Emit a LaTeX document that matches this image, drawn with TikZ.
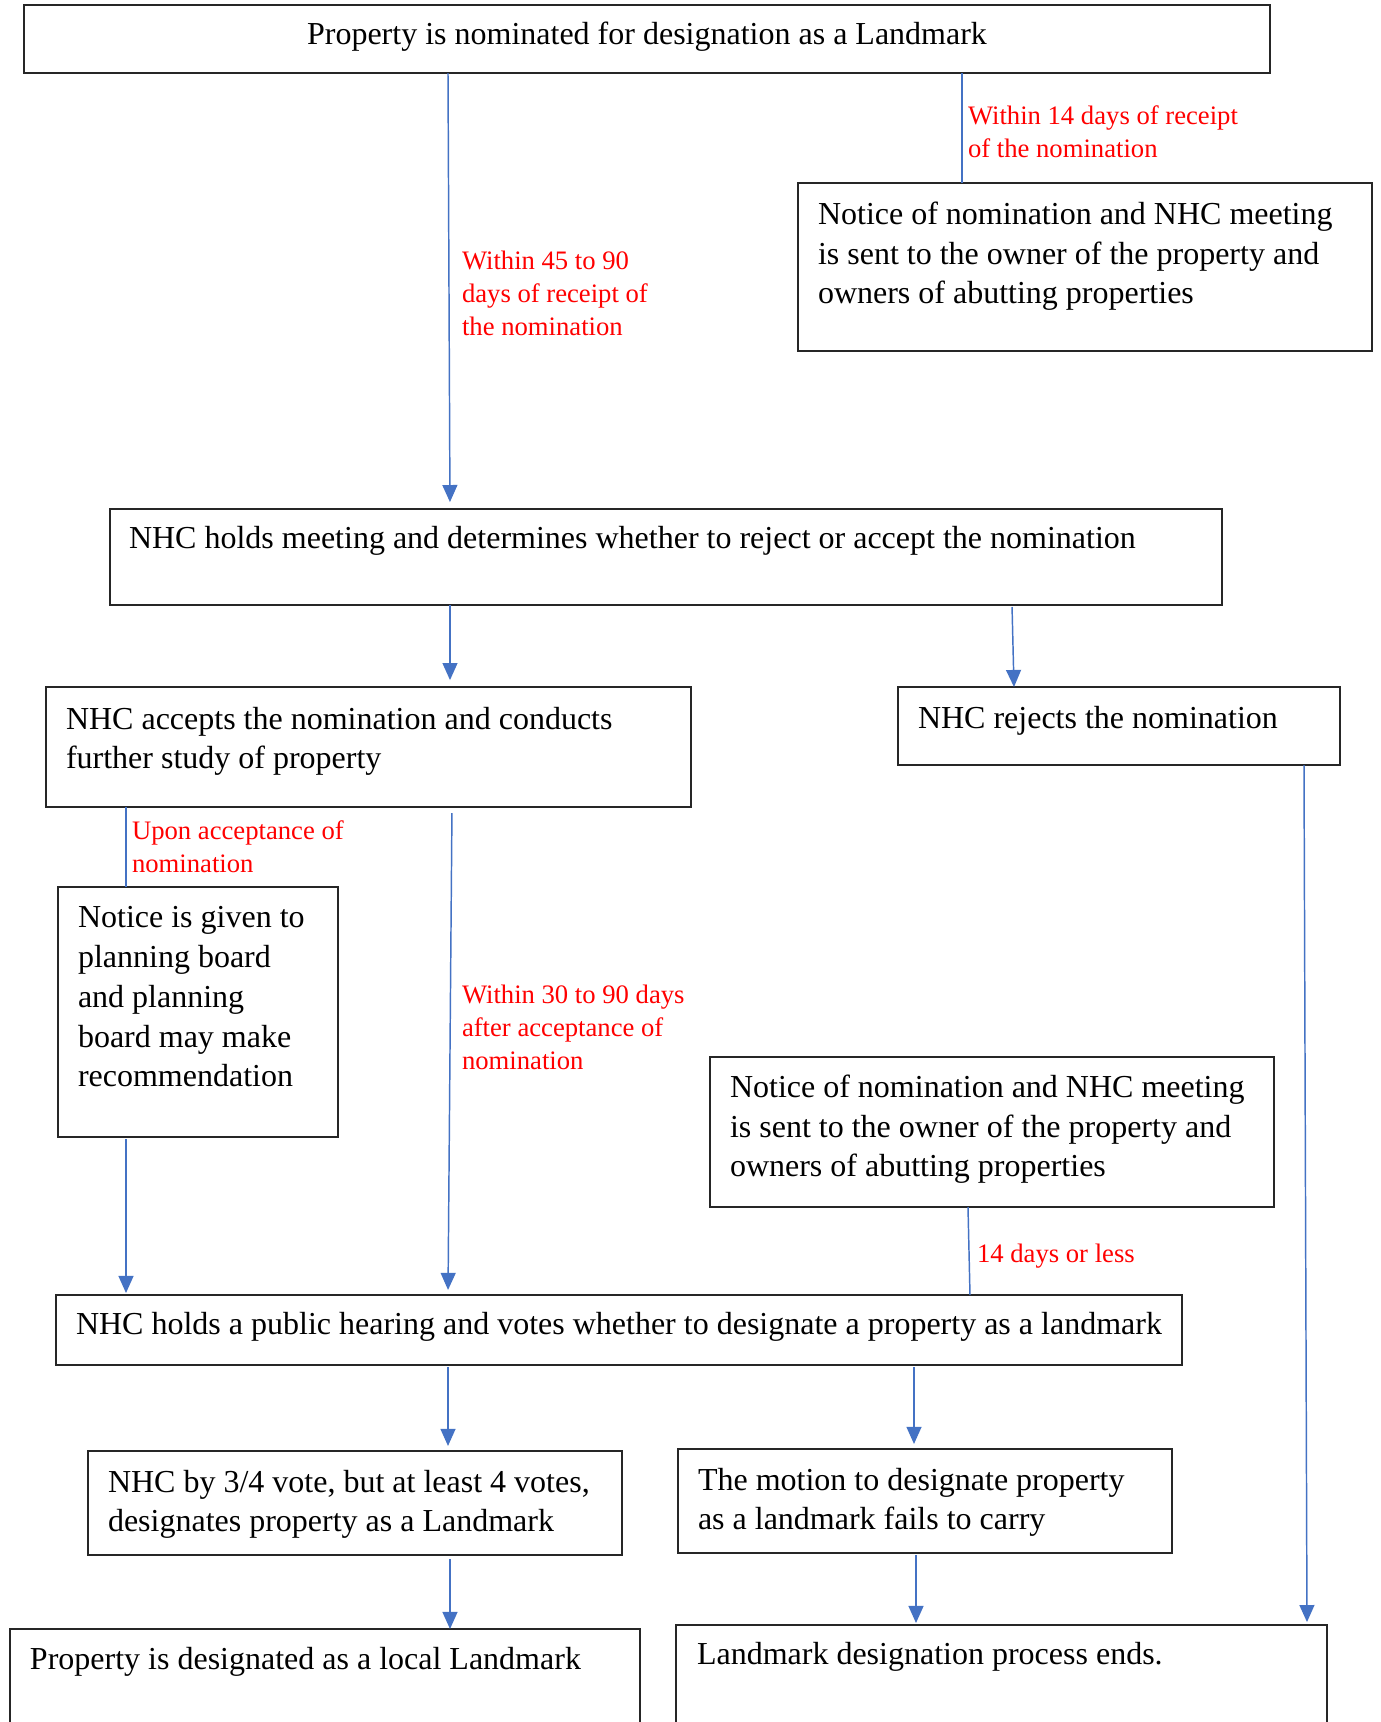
\documentclass[tikz,border=0pt]{standalone}
\usepackage{fontspec}
\setmainfont{Liberation Serif}
\usetikzlibrary{arrows.meta}
\definecolor{ablue}{HTML}{4472C4}
\definecolor{ared}{HTML}{FF0000}
\begin{document}
\begin{tikzpicture}[x=0.375pt,y=-0.375pt,
  box/.style={draw=black!85, line width=0.6pt, inner sep=0pt, outer sep=0pt, anchor=north west},
  txt/.style={inner sep=0pt, outer sep=0pt, align=left, font=\fontsize{12}{14.9}\selectfont, text=black, yshift=-0.7pt},
  lbl/.style={inner sep=0pt, outer sep=0pt, align=left, font=\fontsize{10}{12.4}\selectfont, text=ared, yshift=-0.8pt},
  ln/.style={draw=ablue, line width=0.55pt},
  arr/.style={draw=ablue, line width=0.55pt, -{Triangle[length=6.4pt,width=5.6pt]}}]
\useasboundingbox (0,0) rectangle (1381,1722);
\clip (0,0) rectangle (1381,1722);
\fill[white] (0,0) rectangle (1381,1722);
\newcommand\mybox[5]{\node[box, minimum width=(#4-#2)*0.375pt, minimum height=(#5-#3)*0.375pt] (#1) at (#2,#3) {};}
% boxes
\mybox{b1}{24}{5}{1270}{73}
\mybox{b2}{798}{183}{1372}{351}
\mybox{b3}{110}{509}{1222}{605}
\mybox{b4}{46}{687}{691}{807}
\mybox{b5}{898}{687}{1340}{765}
\mybox{b6}{58}{887}{338}{1137}
\mybox{b7}{710}{1057}{1274}{1207}
\mybox{b8}{56}{1295}{1182}{1365}
\mybox{b9}{88}{1451}{622}{1555}
\mybox{b10}{678}{1449}{1172}{1553}
\mybox{b11}{10}{1629}{640}{1760}
\mybox{b12}{676}{1625}{1327}{1760}
% box texts (base anchor = baseline of the last line)
\node[txt, anchor=base] (t1) at (647,43) {Property is nominated for designation as a Landmark};
\node[txt, anchor=base west] (t2) at (818,302) {Notice of nomination and NHC meeting\\is sent to the owner of the property and\\owners of abutting properties};
\node[txt, anchor=base west] (t3) at (129,547) {NHC holds meeting and determines whether to reject or accept the nomination};
\node[txt, anchor=base west] (t4) at (66,767) {NHC accepts the nomination and conducts\\further study of property};
\node[txt, anchor=base west] (t5) at (918,727) {NHC rejects the nomination};
\node[txt, anchor=base west] (t6) at (78,1085) {Notice is given to\\planning board\\and planning\\board may make\\recommendation};
\node[txt, anchor=base west] (t7) at (730,1175) {Notice of nomination and NHC meeting\\is sent to the owner of the property and\\owners of abutting properties};
\node[txt, anchor=base west] (t8) at (76,1333) {NHC holds a public hearing and votes whether to designate a property as a landmark};
\node[txt, anchor=base west] (t9) at (108,1530) {NHC by 3/4 vote, but at least 4 votes,\\designates property as a Landmark};
\node[txt, anchor=base west] (t10) at (698,1528) {The motion to designate property\\as a landmark fails to carry};
\node[txt, anchor=base west] (t11) at (30,1668) {Property is designated as a local Landmark};
\node[txt, anchor=base west] (t12) at (697,1663) {Landmark designation process ends.};
% red labels
\node[lbl, anchor=base west] (l1) at (968,155) {Within 14 days of receipt\\of the nomination};
\node[lbl, anchor=base west] (l2) at (462,333) {Within 45 to 90\\days of receipt of\\the nomination};
\node[lbl, anchor=base west] (l3) at (132,870) {Upon acceptance of\\nomination};
\node[lbl, anchor=base west] (l4) at (462,1067) {Within 30 to 90 days\\after acceptance of\\nomination};
\node[lbl, anchor=base west] (l5) at (977,1260) {14 days or less};
% x positions of connectors
\coordinate (x126) at (126,0);
\coordinate (x448) at (448,0);
\coordinate (x450) at (450,0);
\coordinate (x452) at (452,0);
\coordinate (x914) at (914,0);
\coordinate (x916) at (916,0);
\coordinate (x962) at (962,0);
\coordinate (x968) at (968,0);
\coordinate (x970) at (970,0);
\coordinate (x1012) at (1012,0);
\coordinate (x1014) at (1014,0);
\coordinate (x1304) at (1304,0);
\coordinate (x1307) at (1307,0);
% connectors
\draw[arr, shorten >=2.6pt] (b1.south -| x448) -- (b3.north -| x450);
\draw[ln] (b1.south -| x962) -- (b2.north -| x962);
\draw[arr, shorten >=2.6pt] (b3.south -| x450) -- (b4.north -| x450);
\draw[arr, shorten <=0.75pt] (b3.south -| x1012) -- (b5.north -| x1014);
\draw[ln] (b4.south -| x126) -- (b6.north -| x126);
\draw[arr, shorten <=2.25pt, shorten >=1.9pt] (b4.south -| x452) -- (b8.north -| x448);
\draw[arr, shorten <=0.75pt, shorten >=0.75pt] (b6.south -| x126) -- (b8.north -| x126);
\draw[ln] (b7.south -| x968) -- (b8.north -| x970);
\draw[arr, shorten >=1.1pt] (b5.south -| x1304) -- (b12.north -| x1307);
\draw[arr, shorten <=0.75pt, shorten >=1.9pt] (b8.south -| x448) -- (b9.north -| x448);
\draw[arr, shorten <=0.75pt, shorten >=1.9pt] (b8.south -| x914) -- (b10.north -| x914);
\draw[arr, shorten <=1.5pt] (b9.south -| x450) -- (b11.north -| x450);
\draw[arr, shorten <=0.75pt, shorten >=0.75pt] (b10.south -| x916) -- (b12.north -| x916);
\end{tikzpicture}
\end{document}
